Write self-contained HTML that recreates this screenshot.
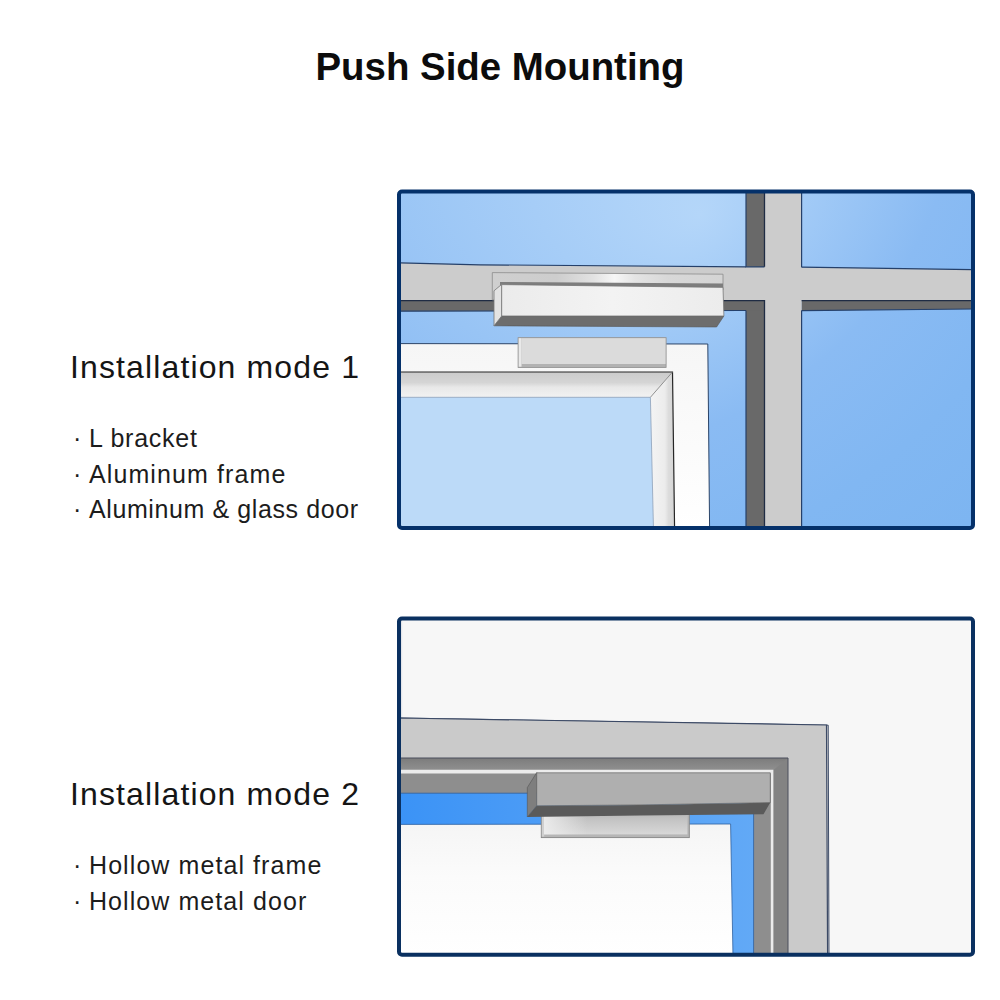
<!DOCTYPE html>
<html lang="en">
<head>
<meta charset="utf-8">
<title>Push Side Mounting</title>
<style>
  html,body{margin:0;padding:0;background:#fff;}
  body{width:1000px;height:1000px;position:relative;overflow:hidden;font-family:"Liberation Sans",sans-serif;color:#111;}
  svg.art{position:absolute;left:0;top:0;width:1000px;height:1000px;display:block;}
  .t{position:absolute;white-space:nowrap;line-height:1;margin:0;}
  h1.t{font-size:38.4px;font-weight:700;left:0;width:1000px;text-align:center;top:48px;color:#0c0c0c;}
  h2.t{font-size:32px;font-weight:400;left:70px;color:#151515;letter-spacing:1.13px;}
  ul.t{list-style:none;padding:0;left:73px;font-size:25px;color:#1c1c1c;}
  ul.t li{height:35.7px;line-height:35.7px;}
  ul.t li span{display:inline-block;width:16px;letter-spacing:0;}
</style>
</head>
<body>
<svg class="art" viewBox="0 0 1000 1000">
  <defs>
    <radialGradient id="sky" gradientUnits="userSpaceOnUse" cx="407.4" cy="-139.2" r="890" fx="700" fy="215">
      <stop offset="0" stop-color="#b4d6f9"/>
      <stop offset="0.44" stop-color="#8abbf3"/>
      <stop offset="0.714" stop-color="#81b7f2"/>
      <stop offset="0.95" stop-color="#7db5f1"/>
      <stop offset="1" stop-color="#7cb4f1"/>
    </radialGradient>

    <linearGradient id="brk" gradientUnits="userSpaceOnUse" x1="492" y1="0" x2="723" y2="0">
      <stop offset="0" stop-color="#cfcfcf"/>
      <stop offset="0.28" stop-color="#cdcdcd"/>
      <stop offset="0.44" stop-color="#e2e2e2"/>
      <stop offset="0.53" stop-color="#f6f6f6"/>
      <stop offset="0.62" stop-color="#e4e4e4"/>
      <stop offset="0.76" stop-color="#d8d8d8"/>
      <stop offset="1" stop-color="#d4d4d4"/>
    </linearGradient>
    <linearGradient id="face1" gradientUnits="userSpaceOnUse" x1="501" y1="0" x2="724" y2="0">
      <stop offset="0" stop-color="#ebebeb"/>
      <stop offset="0.5" stop-color="#f3f3f3"/>
      <stop offset="1" stop-color="#ececec"/>
    </linearGradient>
    <linearGradient id="bevT" x1="0" y1="0" x2="0" y2="1">
      <stop offset="0" stop-color="#cbcbcb"/>
      <stop offset="0.42" stop-color="#d5d5d5"/>
      <stop offset="0.6" stop-color="#e8e8e8"/>
      <stop offset="1" stop-color="#f2f2f2"/>
    </linearGradient>
    <linearGradient id="bevR" x1="0" y1="0" x2="1" y2="0">
      <stop offset="0" stop-color="#f4f4f4"/>
      <stop offset="0.6" stop-color="#ececec"/>
      <stop offset="0.75" stop-color="#dcdcdc"/>
      <stop offset="1" stop-color="#d4d4d4"/>
    </linearGradient>
    <linearGradient id="doorW" x1="0" y1="0" x2="0" y2="1">
      <stop offset="0" stop-color="#f6f6f6"/>
      <stop offset="1" stop-color="#ffffff"/>
    </linearGradient>
    <linearGradient id="blue2" gradientUnits="userSpaceOnUse" x1="401" y1="0" x2="755" y2="0">
      <stop offset="0" stop-color="#3b93f6"/>
      <stop offset="0.4" stop-color="#4c9cf6"/>
      <stop offset="1" stop-color="#62a9f6"/>
    </linearGradient>
    <linearGradient id="door2" x1="0" y1="0" x2="0" y2="1">
      <stop offset="0" stop-color="#f5f5f5"/>
      <stop offset="0.4" stop-color="#fbfbfb"/>
      <stop offset="1" stop-color="#ffffff"/>
    </linearGradient>
    <linearGradient id="arm2" x1="0" y1="0" x2="0" y2="1">
      <stop offset="0" stop-color="#b4b4b4"/>
      <stop offset="0.3" stop-color="#c2c2c2"/>
      <stop offset="1" stop-color="#d8d8d8"/>
    </linearGradient>
    <linearGradient id="dk2" x1="0" y1="0" x2="0" y2="1">
      <stop offset="0" stop-color="#7c7c7c"/>
      <stop offset="1" stop-color="#8f8f8f"/>
    </linearGradient>
    <linearGradient id="arm2h" x1="0" y1="0" x2="1" y2="0">
      <stop offset="0" stop-color="#ededed" stop-opacity="0.95"/>
      <stop offset="0.08" stop-color="#ededed" stop-opacity="0.7"/>
      <stop offset="0.3" stop-color="#ededed" stop-opacity="0"/>
      <stop offset="1" stop-color="#ededed" stop-opacity="0"/>
    </linearGradient>
    <clipPath id="c1"><rect x="400" y="192.6" width="571.5" height="334"/></clipPath>
    <clipPath id="c2"><rect x="400" y="619.6" width="571.5" height="335"/></clipPath>
  </defs>

  <!-- ========== Illustration 1 ========== -->
  <g clip-path="url(#c1)">

    <rect x="398" y="190" width="578" height="340" fill="url(#sky)"/>
    <!-- vertical mullion -->
    <rect x="746" y="190" width="18.6" height="340" fill="#696969"/>
    <rect x="764.4" y="190" width="37.2" height="340" fill="#cccccc"/>
    <!-- horizontal mullion -->
    <polygon points="400,262.8 480,264.8 746,266.8 801.6,267.2 972,269.6 972,300.2 400,300.8" fill="#cccccc"/>
    <polygon points="400,300.8 764.4,300.6 764.4,310.5 746,310.5 400,311.2" fill="#696969"/>
    <polygon points="801.6,300.6 972,300 972,309 801.6,310.6" fill="#696969"/>
    <rect x="764.6" y="262" width="36.8" height="50" fill="#cccccc"/>
    <path d="M400 262.8L480 264.8L746 266.8M801.6 267.2L972 269.6M400 311.2L746 310.5M801.6 310.6L972 309" stroke="#25406a" stroke-width="1.2" fill="none"/>
    <path d="M746 190V266.8H764.5M746 530V310.5M801.6 190V267.2M801.6 310.6V530" stroke="#25406a" stroke-width="1.2" fill="none"/>
    <path d="M764.5 190V266.8M764.5 530V300.6H400M801.6 300.6H972" stroke="#1f2c44" stroke-width="1.3" fill="none"/>
    <!-- L bracket plate -->
    <polygon points="492.3,272.6 723,274.2 723,290 492.3,300" fill="url(#brk)" stroke="#8b8b8b" stroke-width="0.8"/>
    <polygon points="500,282 723,283.4 723,287.4 500,285.4" fill="#7d7d7d"/>
    <!-- maglock body -->
    <polygon points="501.7,316 723.9,316 716.6,327 494,325.8" fill="#6d6d6d" stroke="#555" stroke-width="0.6"/>
    <polygon points="494,290.8 501.7,284.4 501.7,316 494,325.8" fill="#e3e3e3" stroke="#777" stroke-width="0.8"/>
    <polygon points="501.7,284.6 723,287.4 723.9,316 501.7,316" fill="url(#face1)" stroke="#777" stroke-width="0.8"/>
    <!-- door -->
    <polygon points="400,343.6 707.8,344 709.6,530 400,530" fill="url(#doorW)" stroke="#2b4468" stroke-width="1"/>
    <polygon points="400,372 672.5,372 650.4,397.3 400,397.3" fill="url(#bevT)"/>
    <polygon points="672.5,372 674.6,530 653.5,530 650.4,397.3" fill="url(#bevR)"/>
    <polygon points="400,397.3 650.4,397.3 653.5,530 400,530" fill="#bcdaf8"/>
    <path d="M400 372H672.5L674.6 530" stroke="#262626" stroke-width="1.2" fill="none"/>
    <path d="M672.5 372L650.4 397.3" stroke="#777" stroke-width="0.8" fill="none"/>
    <path d="M400 397.3H650.4L653.5 530" stroke="#8da0b8" stroke-width="0.8" fill="none"/>
    <!-- armature plate -->
    <rect x="518.1" y="337.7" width="148" height="29.7" fill="#b2b2b2"/>
    <rect x="518.1" y="337.7" width="3.4" height="29" fill="#e9e9e9"/>
    <rect x="521.3" y="337.7" width="144.8" height="26.3" fill="#dbdbdb"/>
    <rect x="518.1" y="337.7" width="148" height="29.7" fill="none" stroke="#8d8d8d" stroke-width="0.8"/>
  </g>
  <rect x="399" y="191.6" width="574" height="336.4" rx="3" fill="none" stroke="#05316a" stroke-width="4"/>

  <!-- ========== Illustration 2 ========== -->
  <g clip-path="url(#c2)">

    <rect x="398" y="617" width="578" height="340" fill="#f7f7f7"/>
    <rect x="400" y="619" width="2.2" height="99" fill="#e4e6ea"/>
    <!-- frame light -->
    <polygon points="400,718 828.2,725.2 829,957 400,957" fill="#dcdcdc" stroke="#3c4a66" stroke-width="1"/>
    <polygon points="400,718 826.5,725 827.6,957 400,957" fill="#cacaca" stroke="#3c4a66" stroke-width="1.2"/>
    <!-- dark rabbet -->
    <polygon points="400,758 788,758 788,957 400,957" fill="#838383"/>
    <polygon points="400,758 788,758 773.4,770 400,770" fill="url(#dk2)"/>
    <path d="M400 758H788V957" stroke="#4a4f5c" stroke-width="1" fill="none"/>
    <!-- highlight line -->
    <polygon points="400,769.8 773.4,769.8 773.4,957 400,957" fill="#ececec"/>
    <!-- medium gray stop -->
    <polygon points="400,773.4 770.8,773.4 770.8,957 400,957" fill="#8e8e8e"/>
    <!-- blue gap -->
    <polygon points="400,793.2 753.6,793.2 753.6,957 400,957" fill="url(#blue2)" stroke="#2d5f9e" stroke-width="0.8"/>
    <!-- door -->
    <polygon points="400,824.4 730.6,824 733,957 400,957" fill="url(#door2)" stroke="#2d5f9e" stroke-width="0.8"/>
    <!-- armature -->
    <rect x="541.3" y="810" width="148" height="27.6" fill="#b6b6b6" stroke="#868686" stroke-width="0.9"/>
    <rect x="541.8" y="810" width="2.4" height="26.6" fill="#d0d0d0"/>
    <rect x="544" y="812" width="143.4" height="22.4" fill="url(#arm2)"/>
    <rect x="544" y="812" width="143.4" height="22.4" fill="url(#arm2h)"/>
    <!-- maglock -->
    <polygon points="536.7,805.8 640,804.9 770.3,802.6 763.5,814.3 640,815.6 527.3,817" fill="#5a5a5a"/>
    <polygon points="536.7,772.6 527.3,787.6 527.3,817 536.7,805.8" fill="#7e7e7e" stroke="#555" stroke-width="0.6"/>
    <polygon points="536.7,772.8 770.3,772.8 770.3,802.6 640,804.9 536.7,805.8" fill="#afafaf" stroke="#666" stroke-width="0.7"/>
  </g>
  <rect x="399" y="618.6" width="574" height="336.2" rx="3" fill="none" stroke="#0a3060" stroke-width="4"/>
</svg>

<h1 class="t">Push Side Mounting</h1>

<h2 class="t" style="top:351px;">Installation mode 1</h2>
<ul class="t" style="top:421px;">
  <li style="letter-spacing:0.75px"><span>·</span>L bracket</li>
  <li style="letter-spacing:1.1px"><span>·</span>Aluminum frame</li>
  <li style="letter-spacing:0.6px"><span>·</span>Aluminum &amp; glass door</li>
</ul>

<h2 class="t" style="top:778px;">Installation mode 2</h2>
<ul class="t" style="top:848px;">
  <li style="letter-spacing:1.08px"><span>·</span>Hollow metal frame</li>
  <li style="letter-spacing:1.07px"><span>·</span>Hollow metal door</li>
</ul>
</body>
</html>
